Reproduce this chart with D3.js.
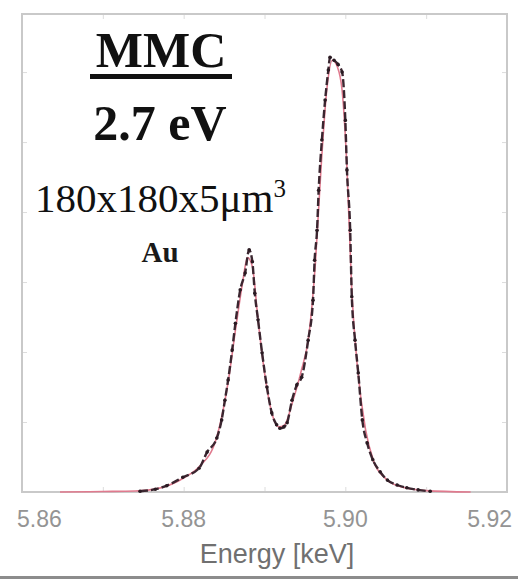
<!DOCTYPE html>
<html>
<head>
<meta charset="utf-8">
<script src="https://cdn.jsdelivr.net/npm/d3@7"></script>
<style>
  html, body { margin: 0; padding: 0; background: #fff; }
  svg { display: block; }
</style>
</head>
<body>
<div id="chart"></div>
<script>
// measured spectrum (energy in keV, counts in arbitrary units)
const measEnergy = [5.8746, 5.8765, 5.8779, 5.8799, 5.8819, 5.8829, 5.8841, 5.8847, 5.8851, 5.8855,
  5.8860, 5.8864, 5.8870, 5.8876, 5.8881, 5.8885, 5.8888, 5.8892, 5.8897, 5.8903,
  5.8909, 5.8915, 5.8919, 5.8924, 5.8928, 5.8934, 5.8940, 5.8946, 5.8954, 5.8960,
  5.8962, 5.8965, 5.8967, 5.8971, 5.8975, 5.8979, 5.8981, 5.8986, 5.8991, 5.8996,
  5.9000, 5.9002, 5.9006, 5.9008, 5.9012, 5.9016, 5.9021, 5.9027, 5.9034, 5.9043,
  5.9052, 5.9064, 5.9076, 5.9090, 5.9105];
const measCounts = [1, 4, 9, 21, 34, 57, 77, 103, 131, 160,
  203, 241, 289, 313, 346, 329, 284, 246, 199, 150,
  113, 96, 91, 93, 99, 131, 153, 164, 217, 274,
  331, 374, 431, 503, 560, 603, 621, 617, 611, 600,
  531, 460, 374, 279, 217, 170, 103, 70, 46, 29,
  17, 10, 6, 3, 1];

// fitted line
const fitEnergy = [5.8647, 5.8700, 5.8740, 5.8770, 5.8800, 5.8820, 5.8840, 5.8855, 5.8865, 5.8873,
  5.8879, 5.8885, 5.8892, 5.8900, 5.8910, 5.8918, 5.8925, 5.8935, 5.8945, 5.8955,
  5.8963, 5.8970, 5.8977, 5.8984, 5.8990, 5.8996, 5.9002, 5.9008, 5.9015, 5.9025,
  5.9035, 5.9050, 5.9070, 5.9100, 5.9155];
const fitCounts = [0, 0.7, 1.4, 5.5, 20, 37, 75, 157, 239, 300,
  335, 322, 246, 171, 109, 93, 96, 130, 171, 225,
  328, 464, 574, 617, 608, 574, 464, 287, 178, 89,
  44, 19, 7, 2, 0];

const xTicks = [5.86, 5.87, 5.88, 5.89, 5.90, 5.91, 5.92];
const xTickLabels = ["5.86", "5.88", "5.90", "5.92"];
const yTicks = [100, 200, 300, 400, 500, 600];

const width = 518, height = 579;
const margin = { top: 14, right: 11, bottom: 87, left: 22 };

const svg = d3.select("#chart").append("svg")
  .attr("width", width)
  .attr("height", height);

const x = d3.scaleLinear().domain([5.86, 5.92]).range([margin.left, width - margin.right]);
const y = d3.scaleLinear().domain([0, 683]).range([height - margin.bottom, margin.top]);

// faint inward ticks
const tickColor = "#dcdcdc";
svg.append("g")
  .attr("transform", `translate(0,${y(0)})`)
  .call(d3.axisBottom(x).tickValues(xTicks).tickSizeInner(-5).tickSizeOuter(0).tickFormat(""))
  .call(g => g.select(".domain").remove())
  .call(g => g.selectAll("line").attr("stroke", tickColor));
svg.append("g")
  .attr("transform", `translate(0,${margin.top})`)
  .call(d3.axisTop(x).tickValues(xTicks).tickSizeInner(-5).tickSizeOuter(0).tickFormat(""))
  .call(g => g.select(".domain").remove())
  .call(g => g.selectAll("line").attr("stroke", tickColor));
svg.append("g")
  .attr("transform", `translate(${margin.left},0)`)
  .call(d3.axisLeft(y).tickValues(yTicks).tickSizeInner(-5).tickSizeOuter(0).tickFormat(""))
  .call(g => g.select(".domain").remove())
  .call(g => g.selectAll("line").attr("stroke", tickColor));
svg.append("g")
  .attr("transform", `translate(${width - margin.right},0)`)
  .call(d3.axisRight(y).tickValues(yTicks).tickSizeInner(-5).tickSizeOuter(0).tickFormat(""))
  .call(g => g.select(".domain").remove())
  .call(g => g.selectAll("line").attr("stroke", tickColor));

// plot frame
svg.append("rect")
  .attr("x", margin.left)
  .attr("y", margin.top)
  .attr("width", width - margin.left - margin.right)
  .attr("height", height - margin.top - margin.bottom)
  .attr("fill", "none")
  .attr("stroke", "#c9c9c9")
  .attr("stroke-width", 2);

// tick labels, first and last pulled inside like the original
svg.append("g")
  .selectAll("text")
  .data(xTickLabels)
  .join("text")
  .attr("x", (d, i) => x(+d) + (i === 0 ? -5 : i === xTickLabels.length - 1 ? 5 : 0))
  .attr("y", 527)
  .attr("text-anchor", (d, i) => i === 0 ? "start" : i === xTickLabels.length - 1 ? "end" : "middle")
  .attr("fill", "#949494")
  .style("font", "23px 'Liberation Sans', Arial, sans-serif")
  .text(d => d);

svg.append("text")
  .attr("x", 277)
  .attr("y", 563)
  .attr("text-anchor", "middle")
  .attr("fill", "#707070")
  .style("font", "27px 'Liberation Sans', Arial, sans-serif")
  .text("Energy [keV]");

// fit line (red) under the measured data
const line = (xs, ys) => d3.line()
  .x((d, i) => x(xs[i]))
  .y((d, i) => y(ys[i]))
  .curve(d3.curveMonotoneX)(xs);

svg.append("path")
  .attr("d", line(fitEnergy, fitCounts))
  .attr("fill", "none")
  .attr("stroke", "#e07a8e")
  .attr("stroke-width", 1.6);

svg.append("path")
  .attr("d", line(measEnergy, measCounts))
  .attr("fill", "none")
  .attr("stroke", "#3b2630")
  .attr("stroke-width", 2.4)
  .attr("stroke-dasharray", "8,3")
  .attr("stroke-linejoin", "round");

svg.append("g")
  .selectAll("circle")
  .data(measEnergy)
  .join("circle")
  .attr("cx", d => x(d))
  .attr("cy", (d, i) => y(measCounts[i]))
  .attr("r", 1.8)
  .attr("fill", "#2a1a22");

// annotation text
const serif = "'Liberation Serif', 'Times New Roman', serif";
svg.append("text")
  .attr("x", 161).attr("y", 67)
  .attr("text-anchor", "middle")
  .style("font", `bold 50px ${serif}`)
  .attr("fill", "#111")
  .text("MMC");
svg.append("rect")
  .attr("x", 90).attr("y", 74)
  .attr("width", 142).attr("height", 5)
  .attr("fill", "#111");
svg.append("text")
  .attr("x", 160).attr("y", 140)
  .attr("text-anchor", "middle")
  .style("font", `bold 50px ${serif}`)
  .attr("fill", "#111")
  .text("2.7 eV");
const vol = svg.append("text")
  .attr("x", 35).attr("y", 212)
  .attr("text-anchor", "start")
  .style("font", `41px ${serif}`)
  .attr("fill", "#111");
vol.append("tspan").text("180x180x5μm");
vol.append("tspan").attr("dy", -15).style("font-size", "25px").text("3");
svg.append("text")
  .attr("x", 160).attr("y", 262)
  .attr("text-anchor", "middle")
  .style("font", `bold 29px ${serif}`)
  .attr("fill", "#1a1a1a")
  .text("Au");

// grey strip at the very bottom
svg.append("rect")
  .attr("x", 0).attr("y", height - 3)
  .attr("width", width).attr("height", 3)
  .attr("fill", "#8c8c8c");
</script>
</body>
</html>
